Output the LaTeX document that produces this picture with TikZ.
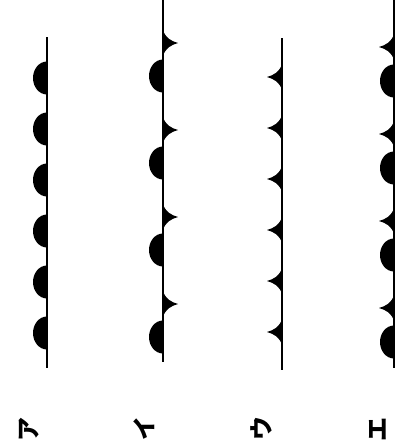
\documentclass[tikz,border=0pt]{standalone}
\usepackage{fontspec}
\newfontfamily\jpfont{Noto Sans CJK JP}
\begin{document}
\begin{tikzpicture}[x=1pt, y=-1pt,
        front/.style={line width=2.6pt},
        warmbump/.pic={\fill (0,16.5) arc[start angle=90, end angle=270,
                        x radius=14, y radius=16.5] -- cycle;},
        coldfin/.pic={\fill (0,-13) .. controls (-2.5,-5) and (-8,-2) .. (-15,0)
                        .. controls (-8,2) and (-2.5,5) .. (0,13) -- cycle;},
        frontlabel/.style={font=\jpfont\bfseries\fontsize{24}{24}\selectfont,
                        rotate=90, inner sep=0pt},
      ]
        \useasboundingbox (0,0) rectangle (397,448);
        % ア: semicircles only
        \draw[front] (47,37) -- (47,368);
        \foreach \y in {78,129,...,333}
          \pic at (47,\y) {warmbump};
        % イ: fins right, semicircles left
        \draw[front] (163,0) -- (163,362);
        \foreach \y in {43,130,217,304} {
          \pic[xscale=-1] at (163,\y) {coldfin};
          \pic at (163,\y+33) {warmbump};
        }
        % ウ: fins only
        \draw[front] (282,38) -- (282,370);
        \foreach \y in {77,128,...,332}
          \pic at (282,\y) {coldfin};
        % エ: fins and semicircles on the same side
        \draw[front] (394,0) -- (394,368);
        \foreach \y in {47,134,221,308} {
          \pic at (394,\y) {coldfin};
          \pic at (394,\y+34) {warmbump};
        }
        % Labels
        \node[frontlabel] (lblA) at (29,429) {ア};
        \node[frontlabel] (lblI) at (144,428) {イ};
        \node[frontlabel] (lblU) at (261,428) {ウ};
        \node[frontlabel] (lblE) at (378,429) {エ};
      \end{tikzpicture}
\end{document}
